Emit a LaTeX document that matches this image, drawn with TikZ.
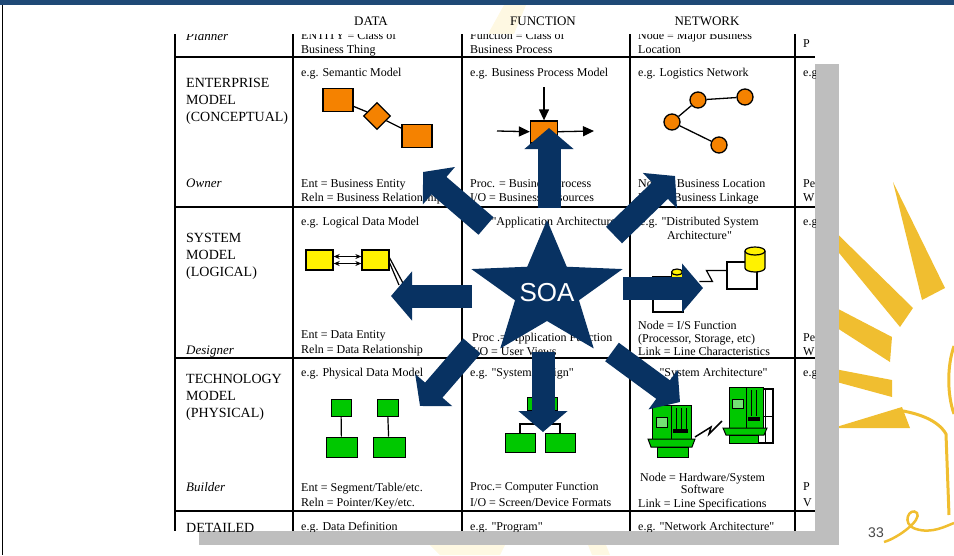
\documentclass[tikz,border=0pt]{standalone}
\usepackage{fontspec}
\setmainfont{Liberation Serif}
\newfontfamily\soasans{Liberation Sans}
\usetikzlibrary{arrows.meta,shapes.geometric}

\definecolor{soablue}{RGB}{8,50,98}
\definecolor{barblue}{RGB}{31,73,118}
\definecolor{sunyellow}{RGB}{240,190,48}
\definecolor{paleyellow}{RGB}{254,248,226}
\definecolor{shadowgrey}{RGB}{190,190,190}
\definecolor{entorange}{RGB}{245,130,0}
\definecolor{hwgreen}{RGB}{0,200,0}
\definecolor{pagegrey}{RGB}{70,70,70}

\begin{document}
\begin{tikzpicture}[x=1pt, y=-1pt,
    colhead/.style={anchor=base, inner sep=0pt, font=\fontsize{13}{15}\selectfont},
    rowlabel/.style={anchor=base west, inner sep=0pt, align=left, font=\fontsize{14}{17}\selectfont},
    role/.style={anchor=base west, inner sep=0pt, font=\fontsize{13}{15}\selectfont\itshape},
    cell/.style={anchor=base west, inner sep=0pt, align=left, font=\fontsize{12}{14.5}\selectfont},
    entbox/.style={draw, line width=1.3pt, fill=entorange, minimum width=30pt, minimum height=23pt, inner sep=0pt},
    relbox/.style={draw, line width=1.3pt, fill=entorange, diamond, minimum size=27pt, inner sep=0pt},
    locdot/.style={draw, line width=1.3pt, fill=entorange, circle, minimum size=16pt, inner sep=0pt},
    databox/.style={draw, line width=1.3pt, fill=yellow, minimum width=27pt, minimum height=20pt, inner sep=0pt},
    greenbox/.style={draw, line width=1pt, fill=hwgreen, inner sep=0pt},
    plainbox/.style={draw, line width=1.2pt, fill=white, inner sep=0pt},
    flow/.style={line width=1.3pt, -{Triangle[length=11pt,width=10pt]}},
    twoway/.style={line width=1.2pt, {Stealth[length=6pt,width=5pt]}-{Stealth[length=6pt,width=5pt]}},
    soaarrow/.style={draw=soablue, line width=23pt, -{Triangle[length=21pt,width=48pt]}}]

    \useasboundingbox (0,0) rectangle (954,555);

    \fill[barblue] (0,0) rectangle (954,5);
    \draw[line width=1.5pt] (2.5,5) -- (2.5,555);

    \fill[paleyellow] (488,34) -- (514,34) -- (526,5) -- (504,5) -- cycle;
    \fill[paleyellow] (430,545) -- (505,545) -- (500,555) -- (440,555) -- cycle;
    \fill[paleyellow] (588,545) -- (606,545) -- (610,555) -- (592,555) -- cycle;

    \fill[sunyellow] (893,182) -- (945,288) -- (922,300) -- cycle;
    \fill[sunyellow] (765,163) -- (913,308) -- (900,327) -- cycle;
    \fill[sunyellow] (675,224) -- (892,337) -- (890,362) -- cycle;
    \fill[sunyellow] (678,339) -- (892,380) -- (892,397) -- cycle;
    \fill[sunyellow] (833,428) -- (902,407) -- (910,428) -- cycle;
    \draw[sunyellow, line width=3pt] (897,410) .. controls (918,413) and (938,420) .. (946,434) -- (949,515);
    \draw[sunyellow, line width=3pt] (954,346) .. controls (947,366) and (947,394) .. (954,414);
    \draw[sunyellow, line width=2.5pt] (884,542) .. controls (898,538) and (922,520) .. (917,513)
        .. controls (910,506) and (900,524) .. (916,529) .. controls (932,534) and (946,526) .. (954,523);
    \node[font=\soasans\fontsize{14}{16}\selectfont, text=pagegrey] (pagenum) at (876,533) {33};

    \fill[shadowgrey] (199,64) rectangle (839,545);
    \fill[white] (174,34) rectangle (815,531);

    \node[colhead] (hdata) at (371,25.5) {DATA};
    \node[colhead] (hfunc) at (543,25.5) {FUNCTION};
    \node[colhead] (hnet) at (707,25.5) {NETWORK};

    \begin{scope}
    \clip (174,34) rectangle (815,531);
    \foreach \gx in {175,293,462,630,795}
        \draw[line width=1.6pt] (\gx,34) -- (\gx,531);
    \foreach \gy in {57,207,358,511}
        \draw[line width=1.6pt] (175,\gy) -- (815,\gy);

    \node[role] (planner) at (186,40) {Planner};
    \node[rowlabel] (enterprise) at (186,121) {ENTERPRISE\\MODEL\\(CONCEPTUAL)};
    \node[role] (owner) at (186,187) {Owner};
    \node[rowlabel] (system) at (186,276) {SYSTEM\\MODEL\\(LOGICAL)};
    \node[role] (designer) at (186,354) {Designer};
    \node[rowlabel] (technology) at (186,417) {TECHNOLOGY\\MODEL\\(PHYSICAL)};
    \node[role] (builder) at (186,491) {Builder};
    \node[rowlabel] (detailed) at (186,532) {DETAILED};

    \node[cell] (dataplan) at (301,53.5) {ENTITY = Class of\\Business Thing};
    \node[cell] (dataent) at (301,76) {e.g. Semantic Model};
    \node[cell] (dataown) at (301,201.5) {Ent = Business Entity\\Reln = Business Relationship};
    \node[cell] (datasys) at (301,225) {e.g. Logical Data Model};
    \node[cell] (datades) at (301,353) {Ent = Data Entity\\Reln = Data Relationship};
    \node[cell] (datatech) at (301,376) {e.g. Physical Data Model};
    \node[cell] (databuild) at (301,506) {Ent = Segment/Table/etc.\\Reln = Pointer/Key/etc.};
    \node[cell] (datadet) at (301,530) {e.g. Data Definition};

    \node[cell] (funcplan) at (470,53.5) {Function = Class of\\Business Process};
    \node[cell] (funcent) at (470,76) {e.g. Business Process Model};
    \node[cell] (funcown) at (470,201.5) {Proc. = Business Process\\I/O = Business Resources};
    \node[cell] (funcsys) at (470,225) {e.g. \textquotedbl Application Architecture\textquotedbl};
    \node[cell, font=\fontsize{12}{14}\selectfont] (funcdes) at (472,355) {Proc .= Application Function\\I/O = User Views};
    \node[cell] (functech) at (470,376) {e.g. \textquotedbl System Design\textquotedbl};
    \node[cell, font=\fontsize{12}{16}\selectfont] (funcbuild) at (470,506) {Proc.= Computer Function\\I/O = Screen/Device Formats};
    \node[cell] (funcdet) at (470,530) {e.g. \textquotedbl Program\textquotedbl};

    \node[cell] (netplan) at (638,53.5) {Node = Major Business\\Location};
    \node[cell] (netent) at (638,76) {e.g. Logistics Network};
    \node[cell] (netown) at (638,201.5) {Node = Business Location\\Link = Business Linkage};
    \node[cell, align=center] (netsys) at (640,239.5) {e.g. \textquotedbl Distributed System\\Architecture\textquotedbl};
    \node[cell, font=\fontsize{12}{13}\selectfont] (netdes) at (638,355) {Node = I/S Function\\(Processor, Storage, etc)\\Link = Line Characteristics};
    \node[cell] (nettech) at (638,376) {e.g. \textquotedbl System Architecture\textquotedbl};
    \node[cell, align=center, font=\fontsize{12}{12.5}\selectfont] (netbuild) at (640,493.5) {Node = Hardware/System\\Software};
    \node[cell] (netlink) at (638,507) {Link = Line Specifications};
    \node[cell] (netdet) at (638,530) {e.g. \textquotedbl Network Architecture\textquotedbl};

    \node[cell] (peopleplan) at (803,47) {P};
    \node[cell] (peopleent) at (803,76) {e.g.};
    \node[cell] (peopleown) at (803,201.5) {Pe\\W};
    \node[cell] (peoplesys) at (803,225) {e.g.};
    \node[cell] (peopledes) at (803,355.5) {Pe\\W};
    \node[cell] (peopletech) at (803,376) {e.g};
    \node[cell, font=\fontsize{12}{16}\selectfont] (peoplebuild) at (803,506) {P\\V};

    \node[entbox] (sement1) at (338,100) {};
    \node[relbox] (semrel) at (377,116) {};
    \node[entbox] (sement2) at (417,136) {};
    \draw[line width=1.3pt] (sement1) -- (semrel) -- (sement2);

    \node[entbox, minimum width=27pt, minimum height=22pt] (bproc) at (544,132) {};
    \coordinate (bprocin) at (497,131);
    \coordinate (bprocout) at (594,131);
    \coordinate (bproctop) at (544,87);
    \draw[flow] (bprocin) -- (bproc);
    \draw[flow] (bproc) -- (bprocout);
    \draw[flow] (bproctop) -- (bproc);

    \node[locdot] (loc1) at (698,100) {};
    \node[locdot] (loc2) at (745,97) {};
    \node[locdot] (loc3) at (672,122) {};
    \node[locdot] (loc4) at (719,145) {};
    \draw[line width=1.3pt] (loc2) -- (loc1) -- (loc3) -- (loc4);

    \node[databox] (lent1) at (319.5,260) {};
    \node[databox] (lent2) at (375.5,260) {};
    \draw[twoway] ([yshift=3.5pt]lent1.east) -- ([yshift=3.5pt]lent2.west);
    \draw[twoway] ([yshift=-3.5pt]lent1.east) -- ([yshift=-3.5pt]lent2.west);
    \coordinate (lfoot) at (404,285);
    \draw[line width=1.2pt] ([yshift=2pt]lent2.east) -- (lfoot);
    \draw[line width=1.2pt] ([yshift=-3pt]lent2.east) -- ([xshift=-5pt]lfoot);

    \node[plainbox, minimum width=30pt, minimum height=27pt] (dsnode1) at (742,275.5) {};
    \draw[line width=1.2pt, fill=yellow] (745,251) -- (745,268) arc[start angle=180, end angle=0, x radius=10, y radius=4] -- (765,251);
    \draw[line width=1.2pt, fill=yellow] (755,251) ellipse [x radius=10, y radius=4];
    \node[plainbox, minimum width=30pt, minimum height=35pt] (dsnode2) at (668,294.5) {};
    \draw[line width=1.2pt, fill=yellow] (671.5,272) -- (671.5,285) -- (682.5,285) -- (682.5,272);
    \draw[line width=1.2pt, fill=yellow] (677,272) ellipse [x radius=5.5, y radius=3];
    \draw[line width=1.2pt] (dsnode1.north west) ++(0,9) -- ++(-20,0) -- ++(6,11) -- ++(-13,0);

    \node[greenbox, minimum width=20pt, minimum height=17pt] (pkey1) at (341,407.5) {};
    \node[greenbox, minimum width=21pt, minimum height=17pt] (pkey2) at (387.5,407.5) {};
    \node[greenbox, minimum width=31pt, minimum height=20pt] (ptab1) at (341.5,447) {};
    \node[greenbox, minimum width=32pt, minimum height=20pt] (ptab2) at (389,447) {};
    \draw[line width=1.2pt] (pkey1) -- (ptab1) (pkey2) -- (ptab2);

    \node[greenbox, minimum width=30pt, minimum height=13pt] (sdtop) at (542,404) {};
    \node[greenbox, minimum width=30pt, minimum height=19pt] (sdleft) at (520,442.5) {};
    \node[greenbox, minimum width=30pt, minimum height=19pt] (sdright) at (560,442.5) {};
    \draw[line width=1.2pt] (sdtop.south) -- ++(0,13) coordinate (sdfork);
    \draw[line width=1.2pt] (sdleft.north) |- (sdfork) -| (sdright.north);

    \draw[greenbox] (652,405) rectangle (691,439);
    \draw[line width=1pt] (671,405) -- (671,439);
    \draw[line width=1pt, fill=hwgreen!55!white] (656,417) rectangle (667,427);
    \draw[line width=1pt] (676,408) -- (676,430) (681,408) -- (681,430) (686,408) -- (686,430);
    \fill (673,429) rectangle (688,433);
    \draw[greenbox] (648,439) -- (695,439) -- (692,447) -- (651,447) -- cycle;
    \draw[greenbox] (657,447) rectangle (688,457);

    \draw[plainbox] (757,389) rectangle (773,443);
    \draw[line width=1pt] (757,416) -- (773,416) (765,389) -- (765,443);
    \draw[greenbox] (729,387) rectangle (763,428);
    \draw[line width=1pt] (746,387) -- (746,428);
    \draw[line width=1pt, fill=hwgreen!55!white] (732,399) rectangle (743,408);
    \draw[line width=1pt] (751,390) -- (751,416) (756,390) -- (756,416);
    \fill (748,417) rectangle (760,421);
    \draw[greenbox] (723,428) -- (767,428) -- (764,435) -- (726,435) -- cycle;
    \draw[greenbox] (729,435) rectangle (758,443);
    \draw[line width=1.5pt] (695,437) -- (711,427) -- (709,434) -- (722,421);
    \end{scope}

    \coordinate (soacentre) at (547,291);
    \coordinate (upfrom) at (549,208);      \coordinate (upto) at (549,128);
    \coordinate (upleftfrom) at (486,226);  \coordinate (uplefto) at (423,172);
    \coordinate (uprightfrom) at (614,235); \coordinate (uprighto) at (675,176);
    \coordinate (leftfrom) at (472,296);    \coordinate (leftto) at (391,296);
    \coordinate (rightfrom) at (623,288);   \coordinate (rightto) at (703,288);
    \coordinate (downleftfrom) at (472,346); \coordinate (downlefto) at (420,406);
    \coordinate (downfrom) at (543,352);    \coordinate (downto) at (543,432);
    \coordinate (downrightfrom) at (612,352); \coordinate (downrighto) at (680,402);
    \foreach \from/\to in {upfrom/upto, upleftfrom/uplefto, uprightfrom/uprighto, leftfrom/leftto,
        rightfrom/rightto, downleftfrom/downlefto, downfrom/downto, downrightfrom/downrighto}
        \draw[soaarrow] (\from) -- (\to);

    \begin{scope}[shift={(soacentre)}, xscale=1.12]
    \fill[soablue] (270:71) -- (306:30) -- (342:71) -- (18:30) -- (54:71) -- (90:30)
        -- (126:71) -- (162:30) -- (198:71) -- (234:30) -- cycle;
    \end{scope}
    \node[font=\soasans\fontsize{26}{30}\selectfont, text=white] (soa) at (547,293) {SOA};

\end{tikzpicture}
\end{document}
